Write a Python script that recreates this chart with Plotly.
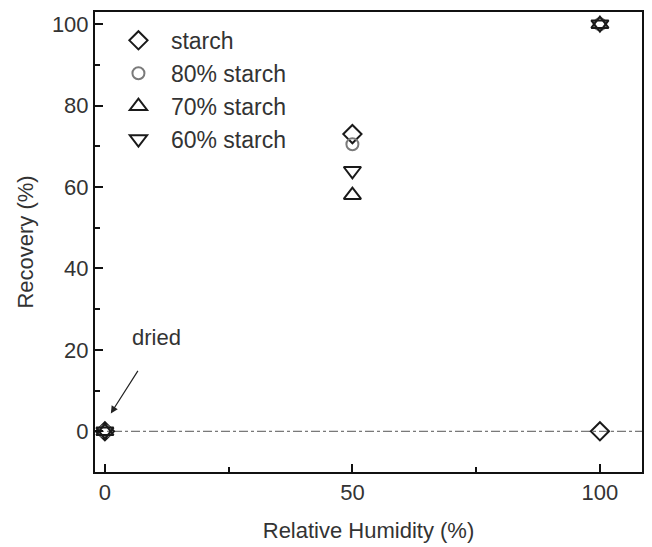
import plotly.graph_objects as go

rh = [0, 50, 100]
starch = [0, 73, 0]
starch80 = [0, 70.5, 100]
starch70 = [0, 58, 100]
starch60 = [0, 64, 100]

names = ["starch", "80% starch", "70% starch", "60% starch"]
series = [starch, starch80, starch70, starch60]
symbols = ["diamond-open", "circle-open", "triangle-up-open", "triangle-down-open"]
colors = ["#1a1a1a", "#7a7a7a", "#1a1a1a", "#1a1a1a"]
sizes = [14, 12, 15, 15]

FONT = "Liberation Sans, Arial, sans-serif"

fig = go.Figure()
for n, s, sym, c, sz in zip(names, series, symbols, colors, sizes):
    fig.add_trace(go.Scatter(
        x=rh, y=s, mode="markers", name=n,
        marker=dict(symbol=sym, size=sz, color=c, line=dict(width=2, color=c)),
    ))

fig.add_shape(type="line", xref="paper", x0=0, x1=1, yref="y", y0=0, y1=0,
              line=dict(color="#555555", width=1, dash="dashdot"), layer="below")

# arrow
fig.add_annotation(x=1.2, y=4.4, xref="x", yref="y", text="", showarrow=True,
                   ax=28, ay=-44, arrowhead=2, arrowsize=1.2, arrowwidth=1.2,
                   arrowcolor="#222222")
fig.add_annotation(x=10.5, y=23, xref="x", yref="y", text="dried", showarrow=False,
                   font=dict(size=22, color="#333333", family=FONT))

fig.update_layout(
    width=652, height=547,
    margin=dict(l=95, r=8, t=12, b=74),
    paper_bgcolor="white", plot_bgcolor="white",
    font=dict(family=FONT, size=22, color="#333333"),
    showlegend=True,
    legend=dict(x=0.02, y=0.985, xanchor="left", yanchor="top",
                bgcolor="rgba(0,0,0,0)", font=dict(size=23, color="#333333"),
                itemsizing="trace", tracegroupgap=0, itemwidth=55),
    xaxis=dict(range=[-2, 108.5], tickvals=[0, 50, 100], ticks="inside", ticklen=8,
               tickwidth=1.5, tickcolor="#111", showline=True, linecolor="#111",
               linewidth=2, mirror=True, showgrid=False, zeroline=False,
               minor=dict(tickvals=[25, 75], ticks="inside", ticklen=5, tickwidth=1.5, tickcolor="#111"),
               title=dict(text="Relative Humidity (%)", font=dict(size=22), standoff=18),
               tickfont=dict(size=22)),
    yaxis=dict(range=[-10, 103], tickvals=[0, 20, 40, 60, 80, 100], ticks="inside", ticklen=8,
               tickwidth=1.5, tickcolor="#111", showline=True, linecolor="#111",
               linewidth=2, mirror=True, showgrid=False, zeroline=False,
               minor=dict(tickvals=[10, 30, 50, 70, 90], ticks="inside", ticklen=5, tickwidth=1.5, tickcolor="#111"),
               title=dict(text="Recovery (%)", font=dict(size=22), standoff=12),
               tickfont=dict(size=22)),
)

fig.write_html("out.html")
